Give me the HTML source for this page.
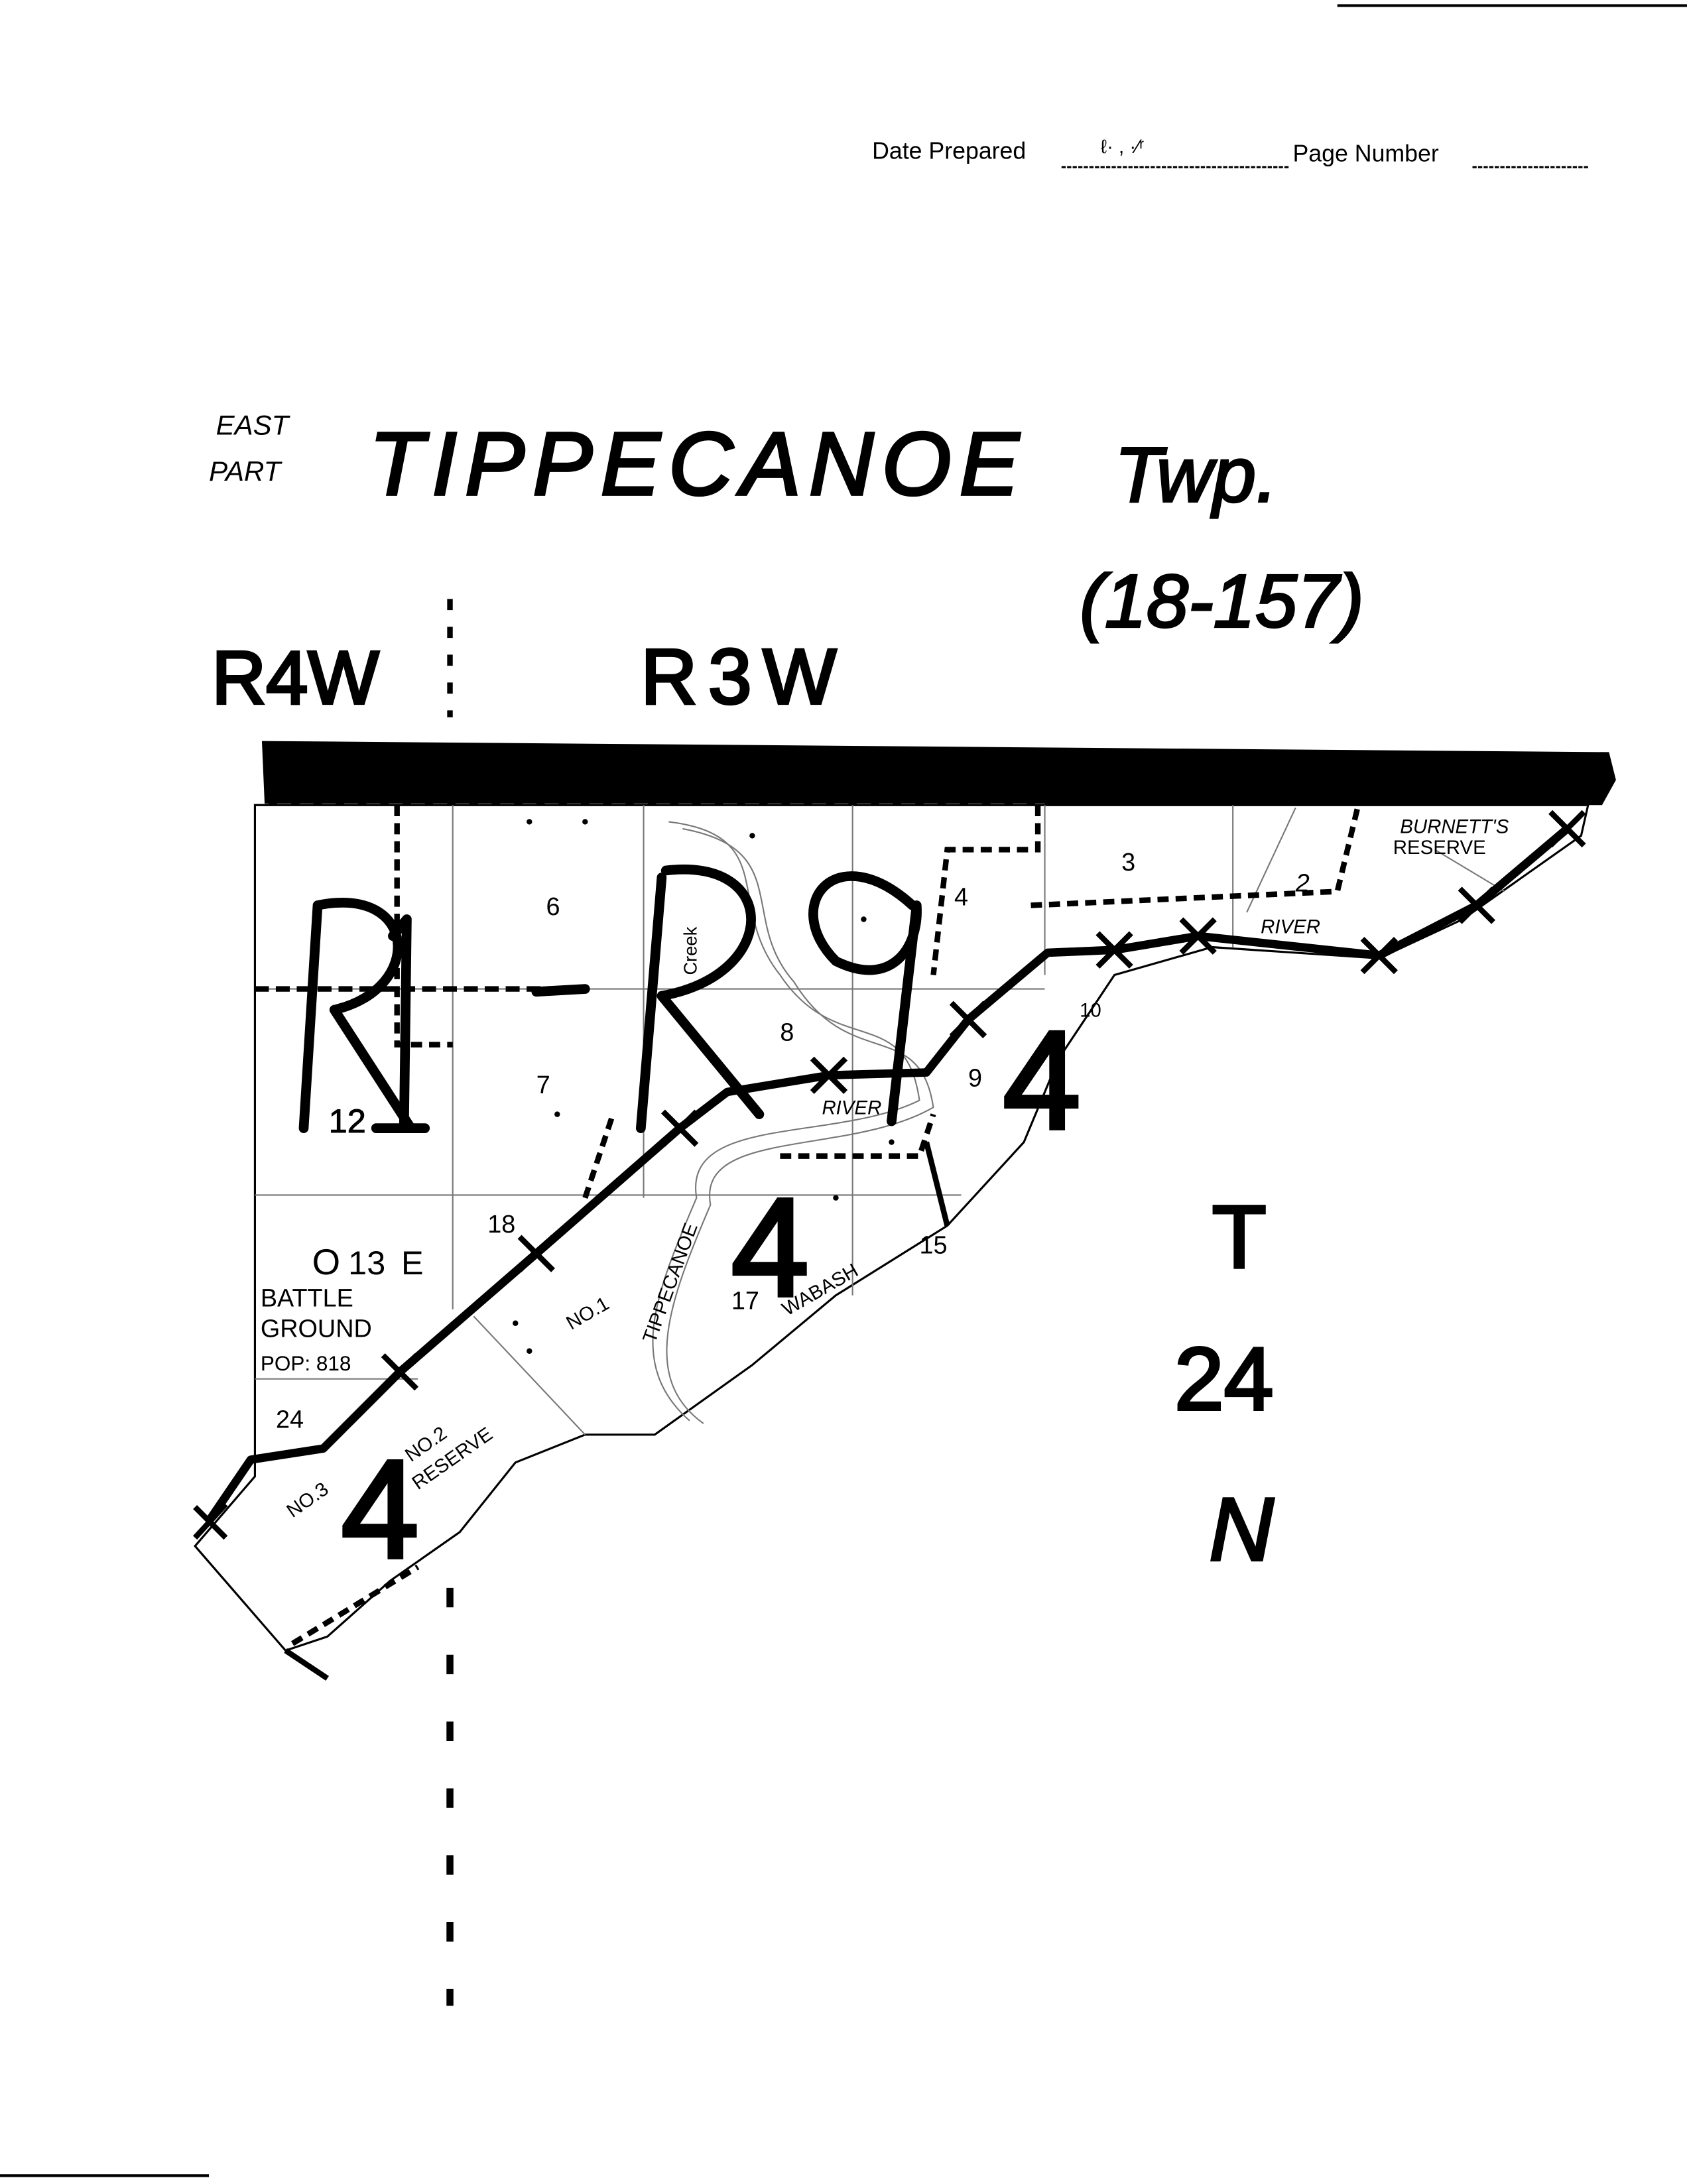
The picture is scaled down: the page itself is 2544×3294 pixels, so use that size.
<!DOCTYPE html>
<html><head><style>
html,body{margin:0;padding:0;background:#fff;}
svg{display:block;}
</style></head><body>
<svg width="2544" height="3294" viewBox="0 0 1211 1568" xmlns="http://www.w3.org/2000/svg" font-family="Liberation Sans, sans-serif">
<rect width="1211" height="1568" fill="#fff"/>
<line x1="960" y1="4" x2="1211" y2="4" stroke="#000" stroke-width="2"/>
<line x1="0" y1="1562" x2="150" y2="1562" stroke="#000" stroke-width="2"/>
<!-- header -->
<text x="626" y="114" font-size="17" fill="#000">Date Prepared</text>
<line x1="762" y1="120" x2="925" y2="120" stroke="#000" stroke-width="1.5" stroke-dasharray="3,1"/>
<text x="790" y="110" font-size="14" fill="#000">ℓ· , ·⁄ʳ</text>
<text x="928" y="116" font-size="17" fill="#000">Page Number</text>
<line x1="1057" y1="120" x2="1140" y2="120" stroke="#000" stroke-width="1.5" stroke-dasharray="3,1"/>
<!-- titles -->
<text x="155" y="312" font-size="20" font-style="italic" fill="#000">EAST</text>
<text x="150" y="345" font-size="20" font-style="italic" fill="#000">PART</text>
<text x="265" y="355" font-size="64" font-style="italic" fill="#000" stroke="#000" stroke-width="2" letter-spacing="6">TIPPECANOE</text>
<text x="800" y="360" font-size="56" font-style="italic" fill="#000" stroke="#000" stroke-width="1.5">Twp.</text>
<text x="775" y="450" font-size="54" font-style="italic" fill="#000" stroke="#000" stroke-width="1.5">(18-157)</text>
<text x="152" y="505" font-size="54" fill="#000" stroke="#000" stroke-width="2">R4W</text>
<text x="460" y="505" font-size="56" fill="#000" stroke="#000" stroke-width="2" letter-spacing="8">R3W</text>
<line x1="323" y1="430" x2="323" y2="515" stroke="#000" stroke-width="4" stroke-dasharray="8,12"/>
<line x1="323" y1="1140" x2="323" y2="1440" stroke="#000" stroke-width="5" stroke-dasharray="14,34"/>
<!-- thick bar -->
<path d="M188 532 L1155 540 L1160 560 L1150 578 L190 578 Z" fill="#000"/>
<line x1="183" y1="578" x2="750" y2="578" stroke="#fff" stroke-width="2" stroke-dasharray="10,6"/>
<!-- map region -->
<path d="M183 578 L1140 578 L1135 600 L1050 660 L990 688 L870 680 L800 700 L760 760 L735 820 L680 880 L600 930 L540 980 L470 1030 L420 1030 L370 1050 L330 1100 L280 1135 L235 1175 L205 1185 L140 1110 L183 1060 Z" fill="none" stroke="#000" stroke-width="1.5"/>
<g stroke="#777" stroke-width="1" fill="none">
<line x1="183" y1="710" x2="750" y2="710"/>
<line x1="183" y1="858" x2="690" y2="858"/>
<line x1="183" y1="990" x2="300" y2="990"/>
<line x1="325" y1="578" x2="325" y2="940"/>
<line x1="462" y1="578" x2="462" y2="860"/>
<line x1="612" y1="578" x2="612" y2="930"/>
<line x1="750" y1="578" x2="750" y2="700"/>
<line x1="885" y1="578" x2="885" y2="680"/>
<line x1="340" y1="945" x2="420" y2="1030"/>
<line x1="1030" y1="610" x2="1080" y2="640"/>
<line x1="930" y1="580" x2="895" y2="655"/>
<path d="M480 590 C560 600 520 650 560 700 C600 760 650 720 660 790 C600 820 490 800 500 860 C470 930 450 980 495 1020"/>
<path d="M490 595 C570 610 530 660 570 705 C610 770 660 730 670 795 C610 830 500 810 510 865 C480 935 460 990 505 1022"/>
</g>
<g fill="none" stroke="#000" stroke-width="4">
<path d="M183 710 L420 710" stroke-dasharray="10,5"/>
<path d="M285 578 L285 750 L325 750" stroke-dasharray="8,5"/>
<path d="M740 650 L960 640 L975 578" stroke-dasharray="8,5"/>
<path d="M745 578 L745 610 L680 610 L670 700" stroke-dasharray="8,5"/>
<path d="M420 860 L440 800" stroke-dasharray="8,5"/>
<path d="M560 830 L660 830 L670 800" stroke-dasharray="8,5"/>
<path d="M210 1180 L300 1125" stroke-dasharray="8,5"/>
</g>
<g fill="#000">
<circle cx="380" cy="590" r="2"/><circle cx="420" cy="590" r="2"/><circle cx="540" cy="600" r="2"/><circle cx="620" cy="660" r="2"/><circle cx="400" cy="800" r="2"/><circle cx="370" cy="950" r="2"/><circle cx="380" cy="970" r="2"/><circle cx="640" cy="820" r="2"/><circle cx="600" cy="860" r="2"/>
</g>
<g font-size="18" fill="#000">
<text x="392" y="657">6</text><text x="685" y="650">4</text><text x="805" y="625">3</text><text x="930" y="640" font-style="italic">2</text>
<text x="385" y="785">7</text><text x="560" y="747">8</text><text x="695" y="780">9</text><text x="775" y="730" font-size="14">10</text>
<text x="350" y="885">18</text><text x="525" y="940">17</text><text x="660" y="900">15</text>
<text x="198" y="1025">24</text>
<text x="224" y="915" font-size="26">O</text><text x="250" y="915" font-size="24">13</text><text x="288" y="915" font-size="24">E</text>
<text x="187" y="938">BATTLE</text><text x="187" y="960">GROUND</text><text x="187" y="984" font-size="15">POP: 818</text>
<text x="1005" y="598" font-size="14" font-style="italic">BURNETT'S</text>
<text x="1000" y="613" font-size="14">RESERVE</text>
<text x="905" y="670" font-size="14" font-style="italic">RIVER</text>
<text x="590" y="800" font-size="14" font-style="italic">RIVER</text>
<text x="410" y="955" font-size="14" transform="rotate(-30 410 955)">NO.1</text>
<text x="470" y="965" font-size="14" transform="rotate(-70 470 965)">TIPPECANOE</text>
<text x="565" y="945" font-size="14" transform="rotate(-30 565 945)">WABASH</text>
<text x="300" y="1070" font-size="14" transform="rotate(-35 300 1070)">RESERVE</text>
<text x="295" y="1050" font-size="14" transform="rotate(-35 295 1050)">NO.2</text>
<text x="210" y="1090" font-size="14" transform="rotate(-35 210 1090)">NO.3</text>
<text x="500" y="700" font-size="13" transform="rotate(-90 500 700)">Creek</text>
</g>
<path d="M150 1092 L180 1048 L232 1040 L287 985 L385 900 L488 810 L522 784 L595 772 L665 770 L695 732 L752 684 L800 682 L860 672 L990 686 L1060 650 L1125 595" fill="none" stroke="#000" stroke-width="6" stroke-linejoin="round"/>
<g stroke="#000" stroke-width="4">
<path d="M140 1082 L162 1104 M162 1080 L140 1104"/>
<path d="M275 973 L299 997 M299 973 L275 997"/>
<path d="M373 888 L397 912 M397 888 L373 912"/>
<path d="M476 798 L500 822 M500 798 L476 822"/>
<path d="M583 760 L607 784 M607 760 L583 784"/>
<path d="M683 720 L707 744 M707 720 L683 744"/>
<path d="M788 670 L812 694 M812 670 L788 694"/>
<path d="M848 660 L872 684 M872 660 L848 684"/>
<path d="M978 674 L1002 698 M1002 674 L978 698"/>
<path d="M1048 638 L1072 662 M1072 638 L1048 662"/>
<path d="M1113 583 L1137 607 M1137 583 L1113 607"/>
<path d="M205 1185 L235 1205"/>
<path d="M665 820 L680 880"/>
</g>
<g fill="none" stroke="#000" stroke-width="7" stroke-linecap="round" stroke-linejoin="round">
<path d="M228 650 L218 810 M228 650 C300 635 305 710 240 725 L295 810"/>
<path d="M282 672 L292 660 L290 810 M270 810 L305 810"/>
<path d="M385 712 L420 710"/>
<path d="M475 630 L460 810 M478 625 C560 615 560 700 475 715 L545 800"/>
<path d="M655 650 C600 600 560 650 600 690 C640 710 660 680 658 650 L640 805"/>
</g>
<g font-size="100" fill="#000" stroke="#000" stroke-width="3">
<text x="236" y="813" font-size="24" stroke-width="0.5">12</text>
<text x="720" y="810">4</text>
<text x="525" y="930">4</text>
<text x="245" y="1118">4</text>
</g>
<g font-size="64" fill="#000" stroke="#000" stroke-width="2">
<text x="870" y="910">T</text>
<text x="843" y="1012">24</text>
<text x="868" y="1120" font-style="italic">N</text>
</g>
</svg>
</body></html>
